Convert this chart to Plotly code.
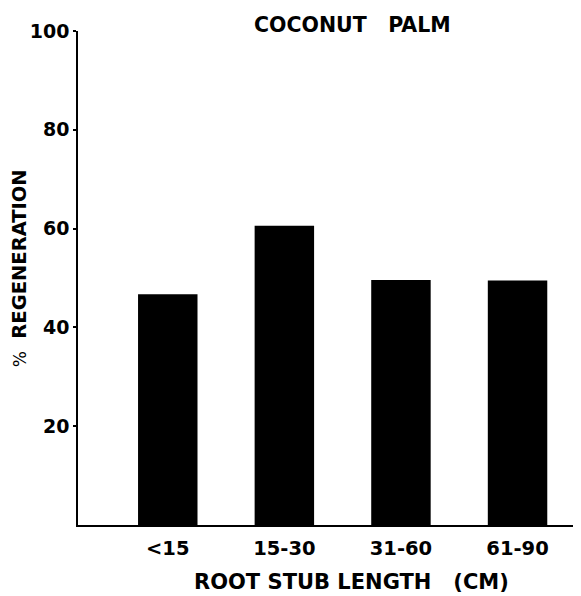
import plotly.graph_objects as go

categories = ["<15", "15-30", "31-60", "61-90"]
regeneration = [46.7, 60.6, 49.6, 49.5]
y_ticks = [20, 40, 60, 80, 100]

FONT = "DejaVu Sans"

fig = go.Figure()
fig.add_trace(go.Bar(
    x=list(range(len(categories))),
    y=regeneration,
    width=0.51,
    marker=dict(color="black", line=dict(width=0)),
))

fig.update_layout(
    width=573, height=588,
    margin=dict(l=70, r=4, t=23, b=71),
    paper_bgcolor="white", plot_bgcolor="white",
    showlegend=False,
    font=dict(family=FONT, color="black"),
    xaxis=dict(
        range=[-0.77, 3.51],
        tickvals=list(range(len(categories))),
        ticktext=categories,
        tickfont=dict(size=19.5, family=FONT, weight="bold"),
        ticklabelstandoff=5,
        showgrid=False, zeroline=False,
        showline=True, linecolor="black", linewidth=1.5,
        ticks="", ticklen=0,
    ),
    yaxis=dict(
        range=[0, 100],
        tickvals=y_ticks,
        tickfont=dict(size=19, family=FONT, weight="bold"),
        showgrid=False, zeroline=False,
        showline=True, linecolor="black", linewidth=1.5,
        ticks="outside", ticklen=3, tickwidth=1.5, tickcolor="black",
    ),
)

fig.add_annotation(
    text="<span style='font-size:17px'>%</span>  <b>REGENERATION</b>", textangle=-90,
    xref="paper", yref="paper", x=-0.118, y=0.52,
    xanchor="center", yanchor="middle", showarrow=False,
    font=dict(size=19.5, family=FONT, color="black"),
)
fig.add_annotation(
    text="<b>COCONUT   PALM</b>",
    xref="paper", yref="paper", x=0.551, y=1.012,
    xanchor="center", yanchor="middle", showarrow=False,
    font=dict(size=20.5, family=FONT, color="black"),
)
fig.add_annotation(
    text="<b>ROOT STUB LENGTH   (CM)</b>",
    xref="paper", yref="paper", x=0.549, y=-0.115,
    xanchor="center", yanchor="middle", showarrow=False,
    font=dict(size=21, family=FONT, color="black"),
)

fig.write_html("out.html")
